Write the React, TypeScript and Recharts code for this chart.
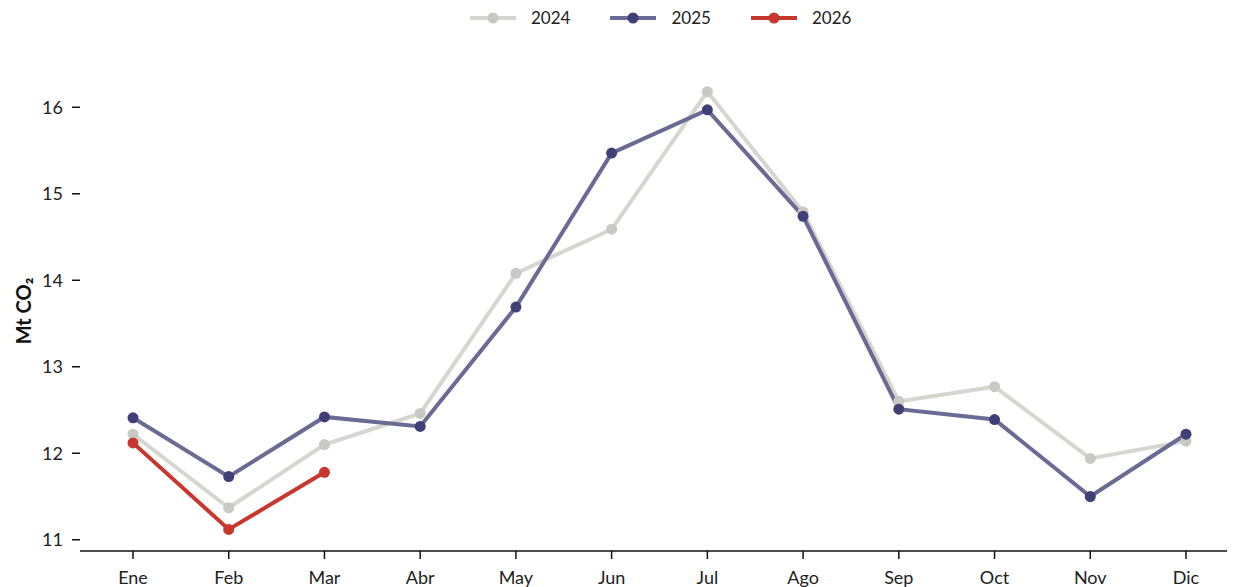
import { Line, LineChart, XAxis, YAxis } from 'recharts';

const months = ['Ene', 'Feb', 'Mar', 'Abr', 'May', 'Jun', 'Jul', 'Ago', 'Sep', 'Oct', 'Nov', 'Dic'];
const values2024 = [12.22, 11.37, 12.1, 12.46, 14.08, 14.59, 16.18, 14.79, 12.6, 12.77, 11.94, 12.14];
const values2025 = [12.41, 11.73, 12.42, 12.31, 13.69, 15.47, 15.97, 14.74, 12.51, 12.39, 11.5, 12.22];
const values2026 = [12.12, 11.12, 11.78];
const yTicks = [11, 12, 13, 14, 15, 16];

const FONT = 'Lato, "Open Sans", sans-serif';

const series = [
  { key: 'y2024', name: '2024', line: '#d6d6d1', dot: '#c9c9c3' },
  { key: 'y2025', name: '2025', line: '#6a6b95', dot: '#3e4076' },
  { key: 'y2026', name: '2026', line: '#c8372d', dot: '#c8372d' },
];

const data = months.map((m, i) => ({
  month: m,
  y2024: values2024[i],
  y2025: values2025[i],
  y2026: values2026[i] ?? null,
}));

// legend drawn as plain html so it does not eat into the plot area
function ChartLegend() {
  return (
    <div
      style={{
        position: 'absolute',
        top: 7,
        left: 470,
        display: 'flex',
        gap: 40,
        fontFamily: FONT,
        fontSize: 17,
        color: '#222',
      }}
    >
      {series.map((s) => (
        <div key={s.key} style={{ display: 'flex', alignItems: 'center', gap: 15 }}>
          <svg width={46} height={14}>
            <line x1={0} y1={7} x2={46} y2={7} stroke={s.line} strokeWidth={4} />
            <circle cx={23} cy={7} r={5.5} fill={s.dot} />
          </svg>
          <span>{s.name}</span>
        </div>
      ))}
    </div>
  );
}

function YLabel({ viewBox }: any) {
  const cy = viewBox.y + viewBox.height / 2 - 3;
  return (
    <text
      x={23}
      y={cy}
      transform={`rotate(-90, 23, ${cy})`}
      textAnchor="middle"
      dominantBaseline="central"
      fontFamily={FONT}
      fontSize={20}
      fontWeight={700}
      fill="#111"
    >
      Mt CO₂
    </text>
  );
}

export default function App() {
  return (
    <div style={{ position: 'relative', margin: '-8px 0 0 -8px', background: '#fff', width: 1235, height: 587 }}>
      <ChartLegend />
      <LineChart width={1235} height={587} data={data} margin={{ top: 77, right: 3, left: 0, bottom: 6 }}>
        <XAxis
          dataKey="month"
          height={30}
          padding={{ left: 53, right: 46 }}
          axisLine={{ stroke: '#111', strokeWidth: 1.5 }}
          tickLine={{ stroke: '#111', strokeWidth: 1.5 }}
          tickSize={8}
          tickMargin={12}
          tick={{ fontFamily: FONT, fontSize: 18, fill: '#222' }}
        />
        <YAxis
          width={80}
          domain={[10.87, 16.35]}
          ticks={yTicks}
          allowDataOverflow
          axisLine={false}
          tickLine={{ stroke: '#111', strokeWidth: 1.5 }}
          tickSize={8}
          tickMargin={9}
          tick={{ fontFamily: FONT, fontSize: 18, fill: '#222' }}
          label={<YLabel />}
        />
        {series.map((s) => (
          <Line
            key={s.key}
            dataKey={s.key}
            name={s.name}
            type="linear"
            stroke={s.line}
            strokeWidth={4}
            dot={{ r: 5.5, fill: s.dot, stroke: s.dot, strokeWidth: 0 }}
            activeDot={false}
            isAnimationActive={false}
          />
        ))}
      </LineChart>
    </div>
  );
}
